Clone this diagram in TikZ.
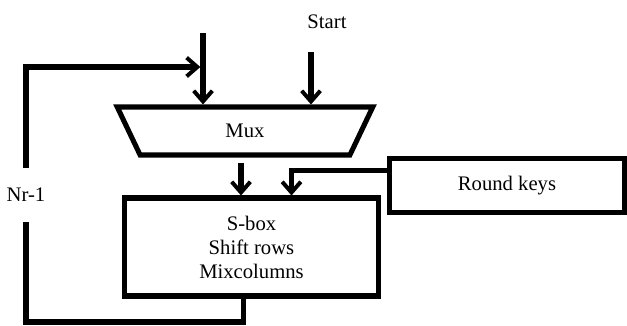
\documentclass[tikz,border=0pt]{standalone}
\usepackage{fontspec}
\setmainfont{Liberation Serif}
\usepackage{tikz}
\usetikzlibrary{arrows.meta,shapes.geometric,positioning,calc}

\begin{document}
\begin{tikzpicture}[x=0.75pt, y=-0.75pt, line width=3.8pt,
    >={Straight Barb[length=8pt,width=14pt,line width=3pt]},
    every node/.style={font=\fontsize{15.5}{18}\selectfont},
    blk/.style={draw, rectangle, align=center}]
  \useasboundingbox (0,0) rectangle (627,325);

  \node[draw, trapezium, shape border rotate=180, trapezium angle=77,
        trapezium stretches=true, minimum width=192pt, minimum height=36pt] (mux) at (245,131) {Mux};
  \node[blk, minimum width=190pt, minimum height=73.5pt] (sbox) at (251.5,247)
       {S-box\\Shift rows\\Mixcolumns};
  \node[blk, minimum width=176pt, minimum height=41pt] (keys) at (507,185.5) {Round keys};
  \node (start) at (327,22) {Start};
  \node[inner sep=0pt, minimum height=37pt] (nr) at (26,195) {Nr-1};

  \coordinate (loopin) at (203,33);
  \coordinate (startin) at (311,52);
  \coordinate (fbbot) at (26,322);
  \coordinate (fbtop) at (26,67);

  \draw[->] (loopin) -- (loopin |- mux.north);
  \draw[->] (startin) -- (startin |- mux.north);
  \draw[->, shorten <=4pt] ([xshift=-3pt]mux.south) -- ([xshift=-3pt]mux.south |- sbox.north);
  \draw[->] ([yshift=11.5pt]keys.west) -| ([xshift=30pt]sbox.north);

  % loop back for the next round
  \draw ([xshift=-6pt]sbox.south) |- (fbbot) -- (nr.south);
  \draw[->] (nr.north) -- (fbtop) -- ([xshift=-2pt]fbtop -| loopin);
\end{tikzpicture}
\end{document}
